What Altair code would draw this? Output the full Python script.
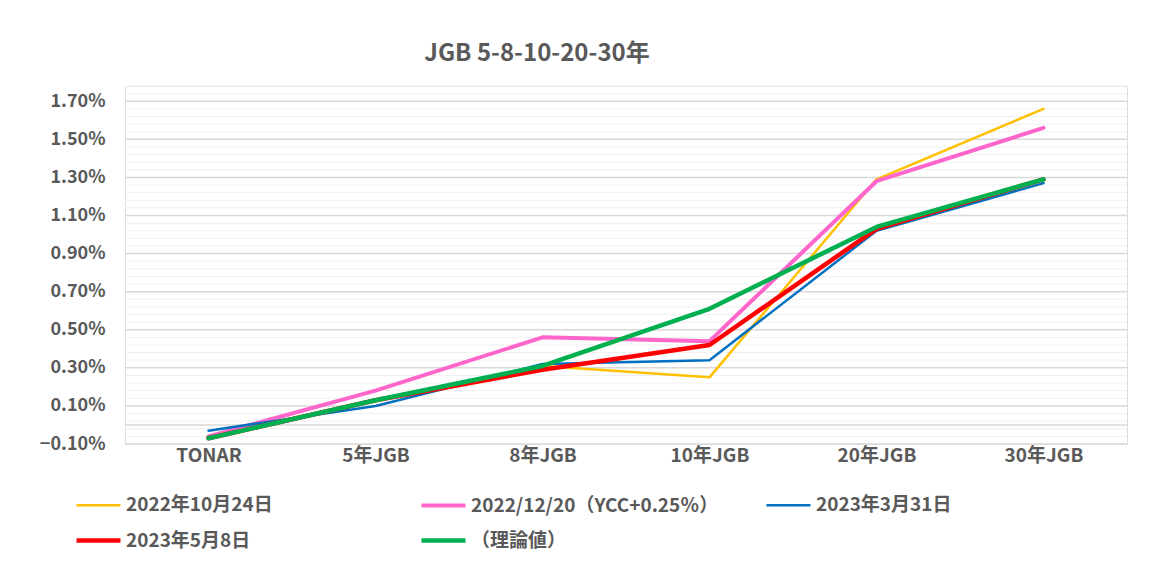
import altair as alt
import pandas as pd
import numpy as np

categories = ["TONAR", "5年JGB", "8年JGB", "10年JGB", "20年JGB", "30年JGB"]
series_names = ["2022年10月24日", "2022/12/20（YCC+0.25％）", "2023年3月31日", "2023年5月8日", "（理論値）"]
yellow_vals = [-0.06, 0.13, 0.31, 0.25, 1.29, 1.66]
pink_vals = [-0.06, 0.18, 0.46, 0.44, 1.28, 1.56]
blue_vals = [-0.03, 0.10, 0.32, 0.34, 1.02, 1.27]
red_vals = [-0.07, 0.13, 0.29, 0.42, 1.03, 1.29]
green_vals = [-0.07, 0.13, 0.31, 0.61, 1.04, 1.29]
all_vals = [yellow_vals, pink_vals, blue_vals, red_vals, green_vals]
colors = ["#FFC000", "#FF66CC", "#0070C0", "#FF0000", "#00B050"]
widths = [2.5, 4, 2.5, 4.5, 4.5]
major_ticks = [-0.10, 0.10, 0.30, 0.50, 0.70, 0.90, 1.10, 1.30, 1.50, 1.70]
y_min, y_max = -0.10, 1.78

minor_ticks = [round(v, 2) for v in np.arange(-0.10, 1.781, 0.04)]
minor_ticks = [v for v in minor_ticks if all(abs(v - m) > 1e-6 for m in major_ticks)]

FONT = "Noto Sans CJK JP"
TXT = "#595959"

yscale = alt.Scale(domain=[y_min, y_max], nice=False, zero=False)
yaxis = alt.Axis(values=major_ticks, grid=False, ticks=False, domain=False,
                 labelExpr="format(datum.value, '.2f') + '%'",
                 labelFontSize=18, labelFontWeight="bold", labelColor=TXT,
                 labelFont=FONT, labelPadding=20)
legend = alt.Legend(
    title=None, orient="none", legendX=-51, legendY=395, columns=3, direction="horizontal",
    gridAlign="all", columnPadding=38, rowPadding=-14, symbolType="stroke", symbolSize=1936,
    labelFontSize=19, labelFontWeight="bold", labelColor=TXT, labelFont=FONT,
    labelOffset=3, labelLimit=400,
)
color_enc = alt.Color("series:N", scale=alt.Scale(domain=series_names, range=colors), legend=legend)
sw_enc = alt.StrokeWidth("series:N", scale=alt.Scale(type="ordinal", domain=series_names, range=widths),
                         legend=legend)

minor = alt.Chart(pd.DataFrame({"v": minor_ticks})).mark_rule(color="#f0f0f0", strokeWidth=1).encode(
    y=alt.Y("v:Q", scale=yscale, axis=yaxis, title=None))
major = alt.Chart(pd.DataFrame({"v": major_ticks + [0.0]})).mark_rule(color="#d9d9d9", strokeWidth=1.5).encode(
    y=alt.Y("v:Q", scale=yscale, axis=yaxis, title=None))

layers = [minor, major]
for name, vals in zip(series_names, all_vals):
    df = pd.DataFrame({"cat": categories, "val": vals, "series": name})
    layers.append(
        alt.Chart(df).mark_line(strokeCap="round", strokeJoin="round").encode(
            x=alt.X("cat:N", sort=categories, title=None,
                    axis=alt.Axis(labelAngle=0, ticks=False, domain=False, grid=False,
                                  labelFontSize=19, labelFontWeight="bold", labelColor=TXT,
                                  labelFont=FONT, labelPadding=2)),
            y=alt.Y("val:Q", scale=yscale, title=None, axis=yaxis),
            color=color_enc,
            strokeWidth=sw_enc,
        )
    )

chart = alt.layer(*layers).properties(
    width=1002, height=358,
    padding={"left": 117, "top": 78, "right": 22, "bottom": 116},
    autosize=alt.AutoSizeParams(type="none"),
    title=alt.TitleParams("JGB 5-8-10-20-30年", fontSize=24, fontWeight="bold", color=TXT,
                          font=FONT, anchor="middle", frame="group", dx=-89, offset=20),
).configure_view(stroke=None).configure(background="white")

chart.save("out.html", embed_options={"renderer": "svg", "actions": False})
